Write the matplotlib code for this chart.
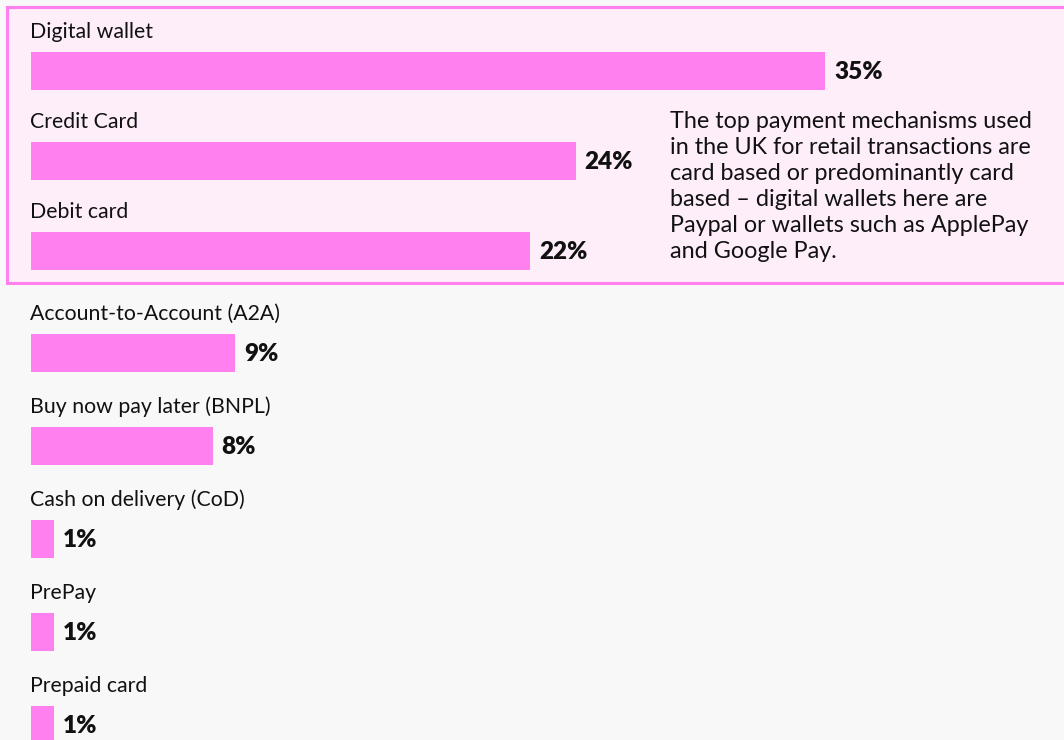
import matplotlib.pyplot as plt
from matplotlib.patches import Rectangle

# payment mechanism shares (%)
categories = ["Digital wallet", "Credit Card", "Debit card", "Account-to-Account (A2A)",
              "Buy now pay later (BNPL)", "Cash on delivery (CoD)", "PrePay", "Prepaid card"]
shares = [35, 24, 22, 9, 8, 1, 1, 1]
note = ("The top payment mechanisms used\n"
        "in the UK for retail transactions are\n"
        "card based or predominantly card\n"
        "based \u2013 digital wallets here are\n"
        "Paypal or wallets such as ApplePay\n"
        "and Google Pay.")

PINK = "#ff80ee"
BOX = "#fdeefa"
BG = "#f8f8f8"
W, H = 1064, 740
x0 = 31          # px where 0% sits
px_pct = 22.69   # px per percentage point

plt.rcParams['font.family'] = ['Lato', 'DejaVu Sans']

fig = plt.figure(figsize=(W / 100, H / 100), dpi=100, facecolor=BG)
ax = fig.add_axes([0, 0, 1, 1])
ax.set_facecolor(BG)
ax.set_xlim(-x0 / px_pct, (W - x0) / px_pct)
ax.set_ylim(H, 0)
ax.axis('off')

def px(x):
    return (x - x0) / px_pct

# highlight box around the card based methods
ax.add_patch(Rectangle((px(7), 7), px(1075) - px(7), 276, facecolor=BOX,
                       edgecolor=PINK, lw=2.2, zorder=0))

# row centres: three rows inside the box, the rest below it
ys = []
for i in range(len(categories)):
    if i < 3:
        ys.append(71 + 90 * i)
    else:
        ys.append(353 + 93 * (i - 3))

ax.barh(ys, shares, height=38, left=0, color=PINK, zorder=2)
for y, c, v in zip(ys, categories, shares):
    ax.text(-0.03, y - 33, c, fontsize=15.3, ha='left', va='baseline', color='#111111')
    ax.text(v + 9 / px_pct, y + 1, f"{v}%", fontsize=17.5, fontweight='heavy',
            ha='left', va='center', color='#111111')

fig.text(670 / W, 1 - 111 / H, note, fontsize=16.8, ha='left', va='top',
         linespacing=1.3, color='#111111')

fig.savefig("out.png", dpi=100, facecolor=BG)
